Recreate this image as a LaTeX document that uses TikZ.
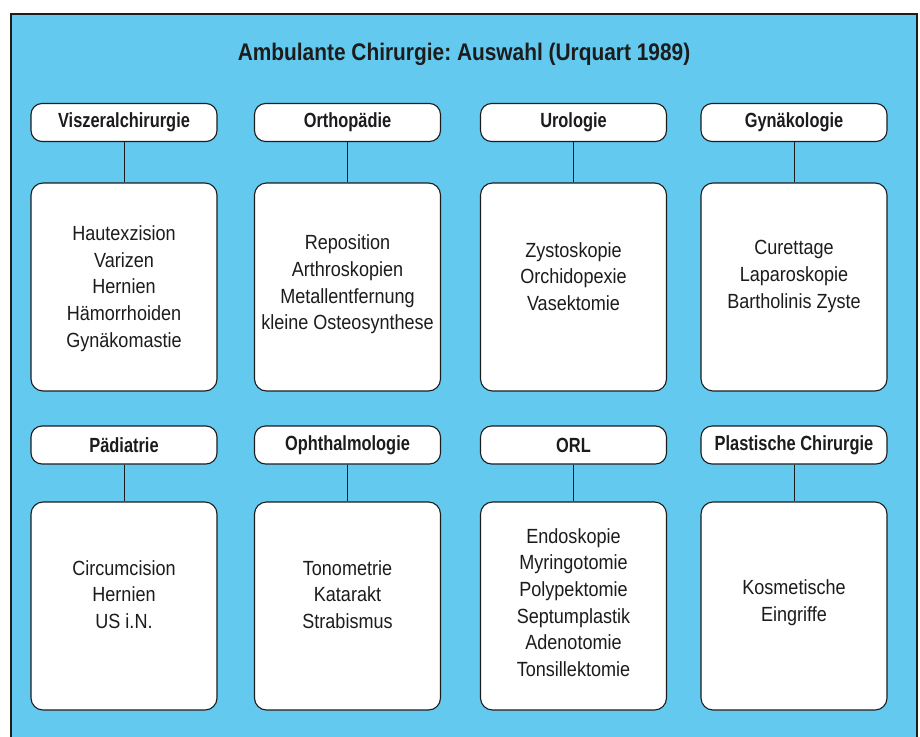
\documentclass[tikz,border=0pt]{standalone}
\usepackage{fontspec}
\newfontfamily\condreg{Liberation Sans}[FakeStretch=0.88]
\newfontfamily\condbold{Liberation Sans}[FakeStretch=0.80]
\newfontfamily\condtitle{Liberation Sans}[FakeStretch=0.87]
\definecolor{bgblue}{RGB}{99,201,239}
\definecolor{ink}{RGB}{28,28,28}
\frenchspacing
\begin{document}
\begin{tikzpicture}[x=1pt,y=-1pt,
  hdr/.style={draw=ink, line width=1.1pt, fill=white, rounded corners=11pt,
    minimum width=186pt, minimum height=38pt, inner sep=0pt,
    font=\condbold\bfseries\fontsize{20.5}{23}\selectfont, text=ink},
  cbox/.style={draw=ink, line width=1.1pt, fill=white, rounded corners=12pt,
    minimum width=186pt, minimum height=208pt, inner sep=0pt},
  items/.style={align=center, inner sep=0pt, text=ink,
    font=\condreg\fontsize{20.5}{26.6}\selectfont},
  conn/.style={draw=ink, line width=0.9pt}
]
\useasboundingbox (0,0) rectangle (920,736);
\fill[white] (0,0) rectangle (920,736);
\fill[bgblue] (11,14) rectangle (917,745);
\draw[ink, line width=1.8pt] (11,745) -- (11,14) -- (917,14) -- (917,745);

\node[text=ink, font=\condtitle\bfseries\fontsize{24}{27}\selectfont] (title) at (464,54.5) {Ambulante Chirurgie: Auswahl (Urquart 1989)};

% row 1
\node[hdr] (h1) at (124,122.5) {Viszeralchirurgie};
\node[hdr] (h2) at (347.5,122.5) {Orthopädie};
\node[hdr] (h3) at (573.5,122.5) {Urologie};
\node[hdr] (h4) at (794,122.5) {Gynäkologie};
\node[cbox] (c1) at (124,287) {};
\node[cbox] (c2) at (347.5,287) {};
\node[cbox] (c3) at (573.5,287) {};
\node[cbox] (c4) at (794,287) {};
\draw[conn] (h1.south) -- (c1.north);
\draw[conn] (h2.south) -- (c2.north);
\draw[conn] (h3.south) -- (c3.north);
\draw[conn] (h4.south) -- (c4.north);
\node[items] (t1) at (124,288.5) {Hautexzision\\Varizen\\Hernien\\Hämorrhoiden\\Gynäkomastie};
\node[items] (t2) at (347.5,284.5) {Reposition\\Arthroskopien\\Metallentfernung\\kleine Osteosynthese};
\node[items] (t3) at (573.5,276.5) {Zystoskopie\\Orchidopexie\\Vasektomie};
\node[items] (t4) at (794,276.5) {Curettage\\Laparoskopie\\Bartholinis Zyste};

% row 2
\node[hdr] (h5) at (124,445) {Pädiatrie};
\node[hdr] (h6) at (347.5,445) {Ophthalmologie};
\node[hdr] (h7) at (573.5,445) {ORL};
\node[hdr] (h8) at (794,445) {Plastische Chirurgie};
\node[cbox] (c5) at (124,606) {};
\node[cbox] (c6) at (347.5,606) {};
\node[cbox] (c7) at (573.5,606) {};
\node[cbox] (c8) at (794,606) {};
\draw[conn] (h5.south) -- (c5.north);
\draw[conn] (h6.south) -- (c6.north);
\draw[conn] (h7.south) -- (c7.north);
\draw[conn] (h8.south) -- (c8.north);
\node[items] (t5) at (124,594.5) {Circumcision\\Hernien\\US i.N.};
\node[items] (t6) at (347.5,594.5) {Tonometrie\\Katarakt\\Strabismus};
\node[items] (t7) at (573.5,602.5) {Endoskopie\\Myringotomie\\Polypektomie\\Septumplastik\\Adenotomie\\Tonsillektomie};
\node[items] (t8) at (794,602.5) {Kosmetische\\Eingriffe};
\end{tikzpicture}
\end{document}
